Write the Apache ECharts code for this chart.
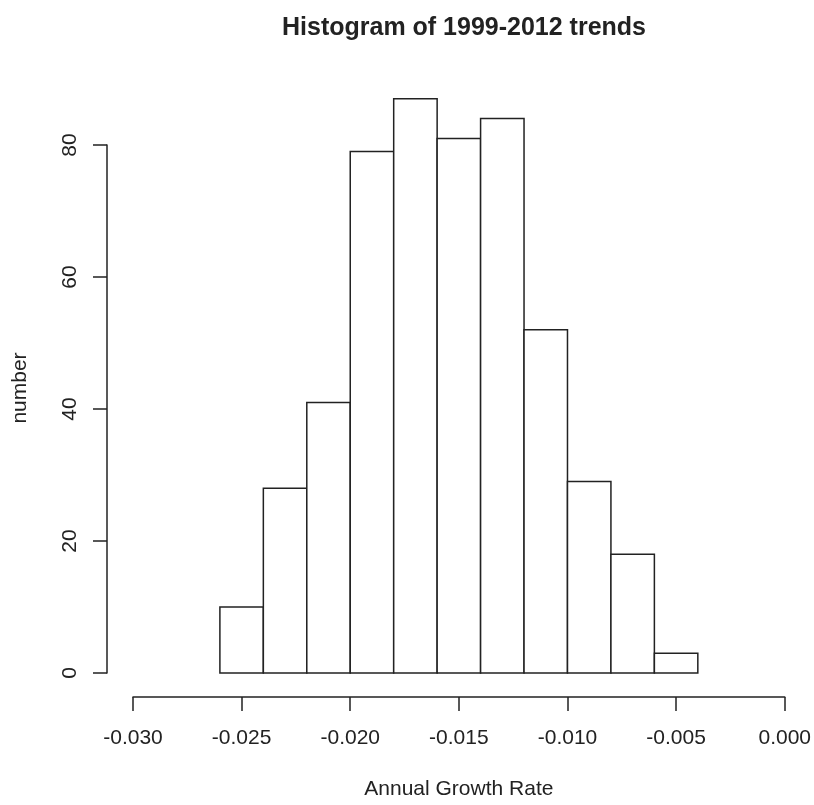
<!DOCTYPE html>
<html>
<head>
    <meta charset="utf-8">
    <title>Histogram of 1999-2012 trends</title>
    <script src="https://cdn.jsdelivr.net/npm/echarts@6/dist/echarts.min.js"></script>
    <style>
        html, body { margin: 0; padding: 0; background: #fff; }
        #main { width: 814px; height: 805px; }
    </style>
</head>
<body>
<div id="main"></div>
<script type="text/javascript">
    // histogram bins (left / right break) and counts
    var binStart = [-0.026, -0.024, -0.022, -0.020, -0.018, -0.016, -0.014, -0.012, -0.010, -0.008, -0.006];
    var binEnd = [-0.024, -0.022, -0.020, -0.018, -0.016, -0.014, -0.012, -0.010, -0.008, -0.006, -0.004];
    var counts = [10, 28, 41, 79, 87, 81, 84, 52, 29, 18, 3];

    var ink = '#222';
    var font = '"Liberation Sans", Arial, sans-serif';

    var bars = [];
    for (var i = 0; i < counts.length; i++) {
        bars.push([binStart[i], binEnd[i], counts[i]]);
    }

    var myChart = echarts.init(document.getElementById('main'));

    var option = {
        backgroundColor: '#FFFFFF',
        animation: false,
        title: {
            text: 'Histogram of 1999-2012 trends',
            left: 459,
            top: 11,
            textAlign: 'center',
            textStyle: {
                fontFamily: font,
                fontSize: 25,
                fontWeight: 'bold',
                color: ink
            }
        },
        grid: {
            left: 133,
            right: 29,
            top: 145,
            bottom: 127,
            containLabel: false
        },
        xAxis: {
            type: 'value',
            min: -0.03,
            max: 0,
            interval: 0.005,
            offset: 24,
            name: 'Annual Growth Rate',
            nameLocation: 'middle',
            nameGap: 82,
            nameTextStyle: { fontFamily: font, fontSize: 21, color: ink },
            axisLine: { show: true, onZero: false, lineStyle: { color: ink, width: 1.5 } },
            axisTick: { show: true, length: 14, lineStyle: { color: ink, width: 1.5 } },
            axisLabel: {
                margin: 31,
                fontFamily: font,
                fontSize: 21,
                color: ink,
                formatter: function (v) { return v.toFixed(3); }
            },
            splitLine: { show: false }
        },
        yAxis: {
            type: 'value',
            min: 0,
            max: 80,
            interval: 20,
            offset: 26,
            axisLine: { show: true, onZero: false, lineStyle: { color: ink, width: 1.5 } },
            axisTick: { show: true, length: 14, lineStyle: { color: ink, width: 1.5 } },
            axisLabel: {
                rotate: 90,
                margin: 26,
                fontFamily: font,
                fontSize: 21,
                color: ink
            },
            splitLine: { show: false }
        },
        graphic: [{
            type: 'text',
            x: 20,
            y: 388,
            rotation: Math.PI / 2,
            style: {
                text: 'number',
                font: '21px ' + font,
                fill: ink,
                align: 'center',
                verticalAlign: 'middle'
            }
        }],
        series: [{
            type: 'custom',
            clip: false,
            data: bars,
            encode: { x: [0, 1], y: 2 },
            renderItem: function (params, api) {
                var p0 = api.coord([api.value(0), 0]);
                var p1 = api.coord([api.value(1), api.value(2)]);
                return {
                    type: 'rect',
                    shape: {
                        x: p0[0],
                        y: p1[1],
                        width: p1[0] - p0[0],
                        height: p0[1] - p1[1]
                    },
                    style: {
                        fill: '#fff',
                        stroke: ink,
                        lineWidth: 1.5
                    }
                };
            }
        }]
    };

    myChart.setOption(option);
</script>
</body>
</html>
